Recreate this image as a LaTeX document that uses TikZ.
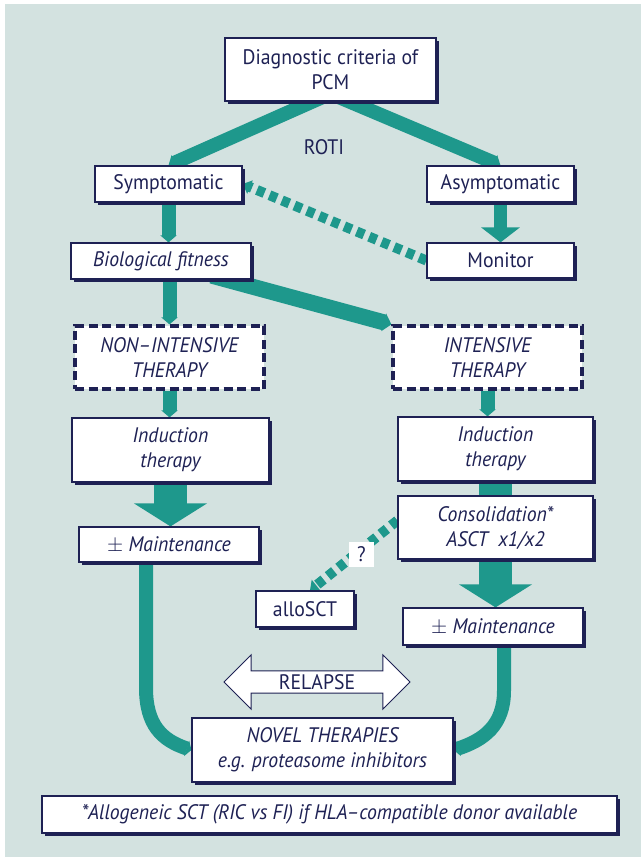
\documentclass[tikz,border=0pt]{standalone}
\usepackage{fontspec}
\setmainfont{PT Sans}[FakeStretch=0.94]
\usetikzlibrary{arrows.meta,calc,shadows,backgrounds,shapes.arrows}

\definecolor{panelbg}{RGB}{211,226,224}
\definecolor{flowteal}{RGB}{30,152,140}
\definecolor{inknavy}{RGB}{30,33,84}
\newcommand{\boxfont}{\fontsize{21}{25}\selectfont}

\begin{document}
\begin{tikzpicture}[x=1pt,y=1pt,yscale=-1,
	stepbox/.style={draw=inknavy, line width=1.2pt, fill=white, text=inknavy, align=center, inner sep=0pt, font=\boxfont,
		drop shadow={shadow xshift=2.5pt, shadow yshift=-2.5pt, opacity=1, fill=inknavy}},
	itbox/.style={stepbox, font=\boxfont\itshape},
	planbox/.style={draw=inknavy, line width=3.2pt, dash pattern=on 9pt off 4.5pt, fill=white, text=inknavy, align=center, inner sep=0pt, font=\boxfont\itshape},
	bar/.style={draw=flowteal, line width=14pt, -{Triangle[width=16pt,length=7pt]}},
	pushbar/.style={draw=flowteal, line width=13pt, -{Triangle[width=38pt,length=15pt]}},
	widebar/.style={draw=flowteal, line width=33pt, -{Triangle[width=72pt,length=23pt]}},
	dashbar/.style={draw=flowteal, line width=10pt, dash pattern=on 8pt off 5.5pt, -{Triangle[width=14pt,length=8pt]}}]
	\useasboundingbox (0,0) rectangle (641,857);

	% decision levels
	\node[stepbox, minimum width=211, minimum height=63] (diag) at (330.5,69.5) {Diagnostic criteria of\\PCM};
	\node[text=inknavy, font=\boxfont] (roti) at (324,147) {ROTI};
	\node[stepbox, minimum width=147, minimum height=36] (sym) at (168.5,184) {Symptomatic};
	\node[stepbox, minimum width=147, minimum height=36] (asym) at (500.5,184) {Asymptomatic};
	\node[itbox, minimum width=180, minimum height=36] (bio) at (161,261) {Biological fitness};
	\node[stepbox, minimum width=147, minimum height=35] (mon) at (500.5,260.5) {Monitor};
	\node[planbox, minimum width=189, minimum height=63] (nonint) at (169.5,357.5) {NON–INTENSIVE\\THERAPY};
	\node[planbox, minimum width=189, minimum height=63] (int) at (487.5,357.5) {INTENSIVE\\THERAPY};

	% treatment lines
	\node[itbox, minimum width=197, minimum height=64] (indl) at (170.5,450) {Induction\\therapy};
	\node[itbox, minimum width=195, minimum height=64] (indr) at (495.5,449) {Induction\\therapy};
	\node[itbox, minimum width=195, minimum height=63] (cons) at (495.5,527.5) {Consolidation*\\ASCT~~x1/x2};
	\node[itbox, minimum width=180, minimum height=35] (mainl) at (169,544.5) {{\upshape$\pm$} Maintenance};
	\node[stepbox, minimum width=98, minimum height=36] (allo) at (305,609) {alloSCT};
	\node[itbox, minimum width=180, minimum height=37] (mainr) at (493,626.5) {{\upshape$\pm$} Maintenance};
	\node[double arrow, draw=inknavy, line width=1pt, fill=white, text=inknavy, font=\boxfont,
		minimum height=186, minimum width=53, double arrow head extend=16, inner xsep=2pt, inner ysep=3pt] (relapse) at (317,682) {RELAPSE};
	\node[itbox, minimum width=261, minimum height=64] (novel) at (322.5,750) {NOVEL THERAPIES\\e.g. proteasome inhibitors};
	\node[itbox, minimum width=575, minimum height=37] (note) at (329.5,814.5) {*Allogeneic SCT (RIC vs FI) if HLA–compatible donor available};
	\node[fill=white, text=inknavy, font=\boxfont, minimum size=25, inner sep=0pt] (q) at (361.5,554.5) {?};

	\begin{pgfonlayer}{background}
		\fill[white] (0,0) rectangle (641,857);
		\fill[panelbg] (5,4) rectangle (641,857);
		% connectors
		\draw[bar] ($(diag.south)+(0,-8)$) -- (sym.north);
		\draw[bar] ($(diag.south)+(0,-8)$) -- (asym.north);
		\draw[pushbar] (asym) -- (mon.north);
		\draw[dashbar] (mon.west) -- (sym.east);
		\draw[bar] (sym) -- (sym.south |- bio.north);
		\draw[bar] (bio.south -| nonint.north) ++(0,-8) -- (nonint.north);
		\draw[bar, line width=16pt, -{Triangle[width=18pt,length=8pt]}] ($(bio.south east)+(-40,-4)$) -- (int.north west);
		\draw[bar] (nonint) -- (nonint.south |- indl.north);
		\draw[bar] (int) -- (int.south |- indr.north);
		\draw[widebar] (indl) -- (indl.south |- mainl.north);
		\draw[draw=flowteal, line width=33pt] (indr) -- (cons);
		\draw[widebar] (cons) -- (cons.south |- mainr.north);
		\draw[dashbar] ($(cons.west)+(0,-7)$) -- ($(allo.north)+(5,0)$);
		\draw[bar, -{Triangle[width=16pt,length=5pt]}] ($(mainl.south)+(-23,-5)$) -- ++(0,130)
			.. controls +(0,37) and +(-30,-10) .. (novel.west);
		\draw[bar, -{Triangle[width=16pt,length=5pt]}] ($(mainr.south)+(11,-5)$) -- ++(0,50)
			.. controls +(0,35) and +(30,-10) .. (novel.east);
	\end{pgfonlayer}
\end{tikzpicture}
\end{document}
